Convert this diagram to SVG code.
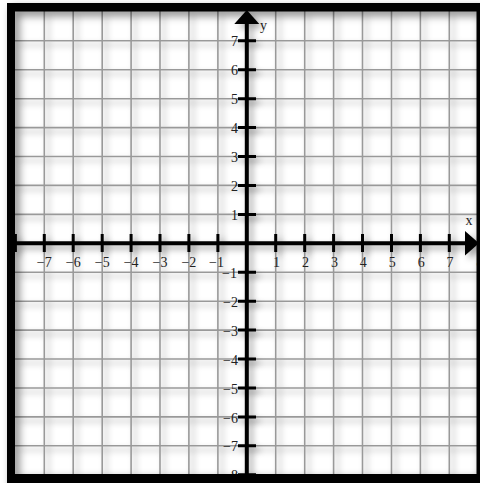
<svg xmlns="http://www.w3.org/2000/svg" width="480" height="483" viewBox="0 0 480 483">
  <defs>
    <filter id="sh" x="-10%" y="-10%" width="130%" height="130%">
      <feDropShadow dx="4" dy="4" stdDeviation="3" flood-color="#000" flood-opacity="0.35"/>
    </filter>
    <filter id="sh2" x="-10%" y="-10%" width="130%" height="130%">
      <feDropShadow dx="4" dy="4" stdDeviation="4" flood-color="#000" flood-opacity="0.5"/>
    </filter>
  </defs>
  <style>
    .grid { stroke: #999; stroke-width: 1.6; fill: none; }
    .axis { stroke: #000; stroke-width: 4; fill: none; }
    .tick { stroke: #000; stroke-width: 3; fill: none; }
    .lbl { font-family: "Liberation Serif", "Times New Roman", serif; font-size: 14px; fill: #222; }
    .xl { text-anchor: middle; }
    .yl { text-anchor: end; }
  </style>
  <rect x="0" y="0" width="480" height="483" fill="#fff"/>
  <g id="grid" filter="url(#sh)">
    <path class="grid" d="M44.3 11V475M73.2 11V475M102.2 11V475M131.1 11V475M160 11V475M188.9 11V475M217.9 11V475M275.7 11V475M304.7 11V475M333.6 11V475M362.5 11V475M391.5 11V475M420.4 11V475M449.3 11V475
      M15 40.8H478M15 69.7H478M15 98.7H478M15 127.6H478M15 156.5H478M15 185.4H478M15 214.4H478M15 272.2H478M15 301.2H478M15 330.1H478M15 359H478M15 388H478M15 416.9H478M15 445.8H478"/>
  </g>
  <g id="axes" filter="url(#sh)">
    <path class="axis" d="M15 243.3H466M246.8 23V475"/>
    <path class="tick" d="M15.4 234V252M44.3 234V252M73.2 234V252M102.2 234V252M131.1 234V252M160 234V252M188.9 234V252M217.9 234V252M275.7 234V252M304.7 234V252M333.6 234V252M362.5 234V252M391.5 234V252M420.4 234V252M449.3 234V252
      M238 40.8H256M238 69.7H256M238 98.7H256M238 127.6H256M238 156.5H256M238 185.4H256M238 214.4H256M238 272.2H256M238 301.2H256M238 330.1H256M238 359H256M238 388H256M238 416.9H256M238 445.8H256M238 474.7H256"/>
    <polygon points="246.8,10 234.3,24 259.3,24" fill="#000"/>
    <polygon points="479,243.3 465,231 465,255.6" fill="#000"/>
  </g>
  <g id="labels" class="lbl">
    <text class="xl" x="44.3" y="267">−7</text>
    <text class="xl" x="73.2" y="267">−6</text>
    <text class="xl" x="102.2" y="267">−5</text>
    <text class="xl" x="131.1" y="267">−4</text>
    <text class="xl" x="160" y="267">−3</text>
    <text class="xl" x="188.9" y="267">−2</text>
    <text class="xl" x="216.5" y="267">−1</text>
    <text class="xl" x="276.5" y="267">1</text>
    <text class="xl" x="305.5" y="267">2</text>
    <text class="xl" x="334.4" y="267">3</text>
    <text class="xl" x="392.3" y="267">5</text>
    <text class="xl" x="363.3" y="267">4</text>
    <text class="xl" x="421.2" y="267">6</text>
    <text class="xl" x="450.1" y="267">7</text>
    <text class="xl" x="480" y="267">8</text>
    <text class="yl" x="238" y="46">7</text>
    <text class="yl" x="238" y="75">6</text>
    <text class="yl" x="238" y="104">5</text>
    <text class="yl" x="238" y="133">4</text>
    <text class="yl" x="238" y="162">3</text>
    <text class="yl" x="238" y="191">2</text>
    <text class="yl" x="238" y="220">1</text>
    <text class="yl" x="237" y="278">−1</text>
    <text class="yl" x="238" y="307">−2</text>
    <text class="yl" x="238" y="336">−3</text>
    <text class="yl" x="238" y="365">−4</text>
    <text class="yl" x="238" y="394">−5</text>
    <text class="yl" x="238" y="423">−6</text>
    <text class="yl" x="238" y="451">−7</text>
    <text class="yl" x="238" y="480">−8</text>
    <text x="469" y="225" text-anchor="middle">x</text>
    <text x="260" y="30">y</text>
  </g>
  <g id="frame" filter="url(#sh2)">
    <path fill="#000" fill-rule="evenodd" d="M7 3H490V490H7Z M15 11.5V474H476.5V11.5Z"/>
  </g>
</svg>
